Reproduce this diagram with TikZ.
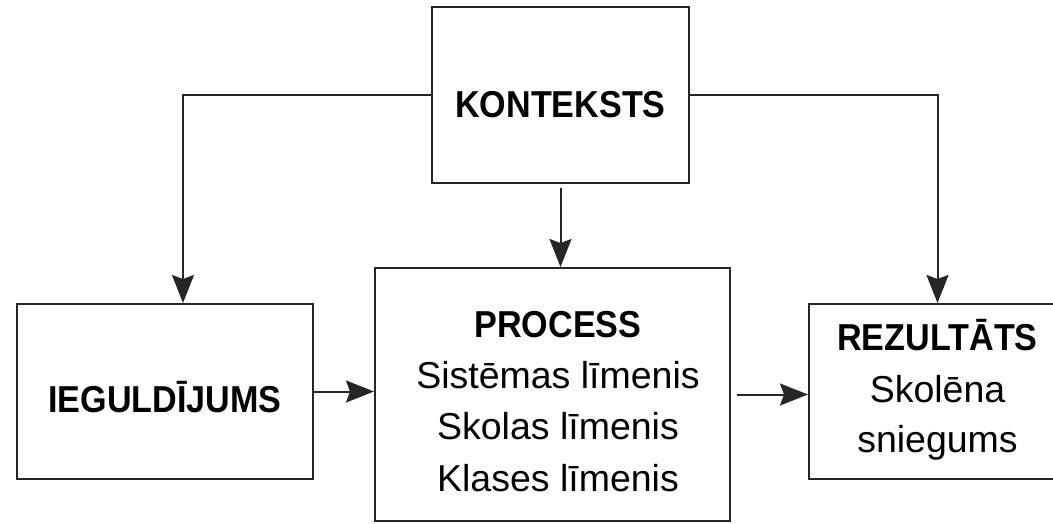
\documentclass[tikz,border=0pt]{standalone}
\usepackage{fontspec}
\setmainfont{Liberation Sans}[BoldFeatures={FakeStretch=0.91}]
\usetikzlibrary{arrows.meta,positioning}

\tikzset{
  box/.style={draw=black!85, line width=2pt, rectangle, inner sep=0pt},
  title/.style={font=\fontsize{37.5}{44}\selectfont\bfseries, inner sep=0pt, anchor=base},
  entry/.style={font=\fontsize{37.5}{44}\selectfont, inner sep=0pt, anchor=base},
  link/.style={line width=2pt, draw=black!85, -{Stealth[length=28pt,width=22pt,inset=4pt]}}
}

\begin{document}
\begin{tikzpicture}[x=1pt, y=-1pt]
\useasboundingbox (0,0) rectangle (1053,523);
\node[box, minimum width=257pt, minimum height=176pt] (ctx) at (560.5,95) {};
\node[box, minimum width=296pt, minimum height=175pt] (inv) at (165,391.5) {};
\node[box, minimum width=355pt, minimum height=253pt] (proc) at (552.5,394.5) {};
\node[box, minimum width=257pt, minimum height=175pt] (res) at (937.5,391.5) {};
\node[title] (ctxtext) at (560.5,117) {KONTEKSTS};
\node[title] (invtext) at (165,412) {IEGULDĪJUMS};
\node[title] (proctitle) at (558,337) {PROCESS};
\node[entry] (proc1) at (558,388) {Sistēmas līmenis};
\node[entry] (proc2) at (558,439.5) {Skolas līmenis};
\node[entry] (proc3) at (558,491) {Klases līmenis};
\node[title] (restitle) at (937.5,350) {REZULTĀTS};
\node[entry] (res1) at (937.5,402) {Skolēna};
\node[entry] (res2) at (937.5,452) {sniegums};
\draw[link] (ctx.west) -| ([xshift=18pt]inv.north);
\draw[link] (ctx.east) -| (res.north);
\draw[link, shorten <=4pt] (ctx.south) -- (ctx.south |- proc.north);
\draw[link] (inv.east) -- (inv.east -| proc.west);
\draw[link, shorten <=6pt] (proc.east) -- (proc.east -| res.west);
\end{tikzpicture}
\end{document}
